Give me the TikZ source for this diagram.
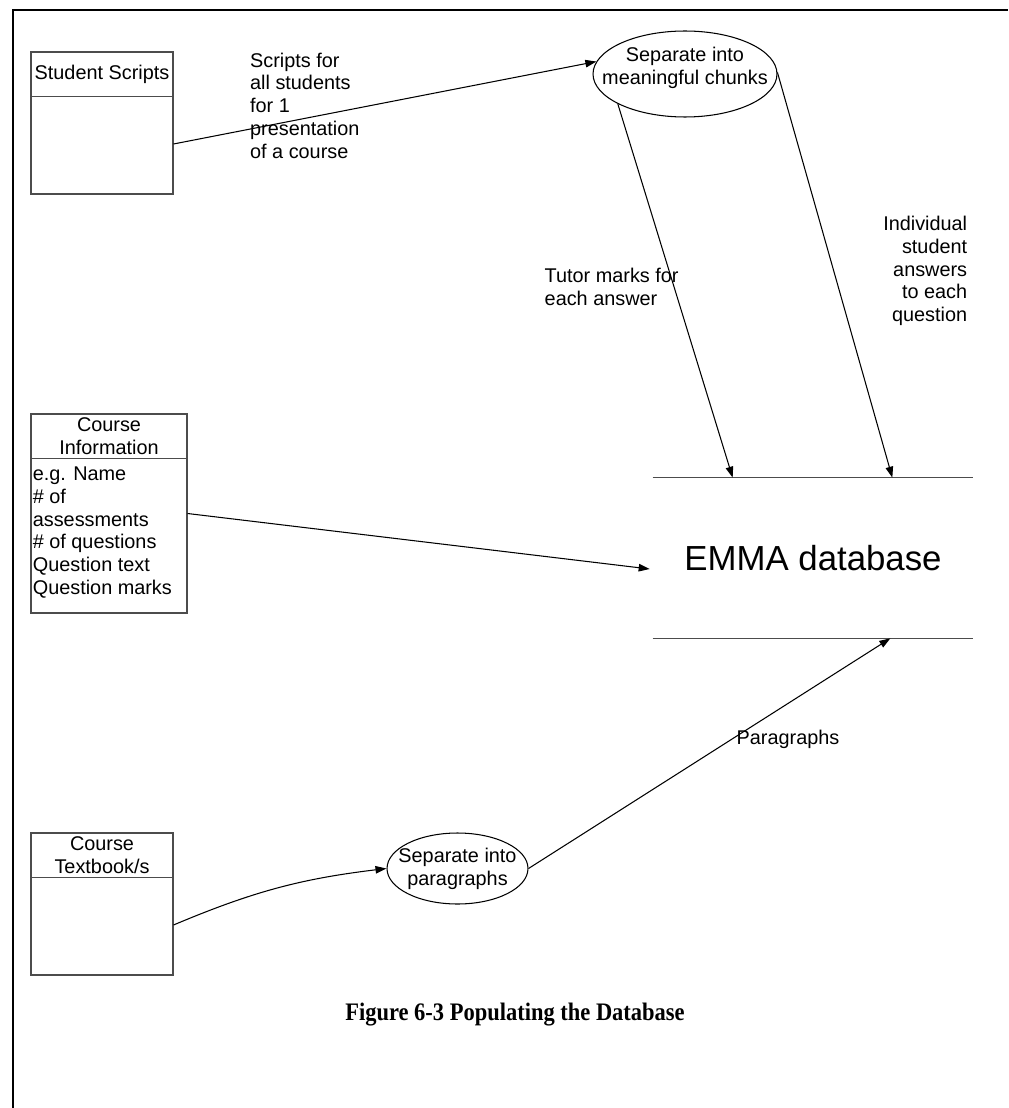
\documentclass[tikz,border=0pt]{standalone}
\usepackage{fontspec}
\setmainfont{Liberation Sans}
\newfontfamily\capfont{Liberation Serif}
\usepackage{tikz}
\usetikzlibrary{arrows.meta, positioning, shapes.geometric}

\newcommand{\lblsize}{\fontsize{11.3}{13}\selectfont}

\begin{document}
\begin{tikzpicture}[x=0.02cm, y=-0.02cm,
    store/.style={draw=black!70, line width=0.6pt, minimum width=2.84cm,
      minimum height=2.84cm, inner sep=0},
    hdr/.style={font=\lblsize, align=center, inner sep=0,
      minimum height=0.9cm},
    proc/.style={draw, ellipse, line width=0.6pt, inner sep=0},
    txt/.style={font=\lblsize, inner sep=0},
    sep/.style={draw=black!70, line width=0.6pt},
    arr/.style={-{Triangle[length=0.22cm, width=0.15cm]}, line width=0.6pt},
    frame/.style={line width=1.5pt},
  ]
    \useasboundingbox (0,0) rectangle (1008,1108);

    % ═══ Frame ═══
    \draw[frame] (13,1108) -- (13,10) -- (1008,10);

    % ═══ Stores (left column) ═══
    \node[store] (ss) at (102,123) {};
    \node[hdr, below=0pt of ss.north] (ssh) {Student Scripts};
    \draw[sep] ([yshift=-0.9cm]ss.north west) -- ([yshift=-0.9cm]ss.north east);

    \node[store, minimum width=3.12cm, minimum height=3.98cm] (ci) at (109,513.5) {};
    \node[hdr, below=0pt of ci.north] (cih) {Course\\Information};
    \draw[sep] ([yshift=-0.9cm]ci.north west) -- ([yshift=-0.9cm]ci.north east);
    \node[txt, align=left, anchor=west] (cib) at ([shift={(2,19)}]ci.west)
      {e.g. Name\\\# of\\assessments\\\# of questions\\Question text\\Question marks};

    \node[store] (tb) at (102,904) {};
    \node[hdr, below=0pt of tb.north] (tbh) {Course\\Textbook/s};
    \draw[sep] ([yshift=-0.9cm]tb.north west) -- ([yshift=-0.9cm]tb.north east);

    % ═══ Processes ═══
    \node[proc, minimum width=3.68cm, minimum height=1.72cm] (chunks) at (685,74) {};
    \node[txt, align=center] (chunkst) at ([yshift=0.12cm]chunks.center)
      {Separate into\\meaningful chunks};
    \node[proc, minimum width=2.82cm, minimum height=1.42cm] (paras) at (457.5,868.5) {};
    \node[txt, align=center] (parast) at (paras.center) {Separate into\\paragraphs};

    % ═══ EMMA data store ═══
    \node[minimum width=6.4cm, minimum height=3.2cm,
      font=\fontsize{19.8}{24}\selectfont] (db) at (813,558) {EMMA database};
    \draw[sep] (db.north west) -- (db.north east);
    \draw[sep] (db.south west) -- (db.south east);

    % ═══ Flows ═══
    \draw[arr] ([yshift=-0.42cm]ss.east) --
      node[txt, pos=0.18, anchor=west, yshift=0.47cm, align=left]
      {Scripts for\\all students\\for 1\\presentation\\of a course} (chunks.172);
    \draw[arr] (chunks.204) --
      node[txt, pos=0.49, anchor=east, xshift=0.1cm, align=left]
      {Tutor marks for\\each answer} ([xshift=1.6cm]db.north west);
    \draw[arr] (chunks.1) --
      node[txt, pos=0.49, right=0.98cm, align=right]
      {Individual\\student\\answers\\to each\\question} ([xshift=-1.62cm]db.north east);
    \draw[arr] (ci.east) -- ([shift={(-3,11)}]db.west);
    \draw[arr] ([yshift=-0.42cm]tb.east) to[bend left=8] (paras.west);
    \draw[arr] (paras.east) --
      node[txt, pos=0.56, right=0.1cm] {Paragraphs} ([xshift=-1.66cm]db.south east);

    % Caption
    \node[font=\capfont\bfseries\fontsize{12.8}{15}\selectfont] (caption) at (515,1015)
      {\scalebox{1}[1.12]{Figure 6-3 Populating the Database}};
  \end{tikzpicture}
\end{document}
